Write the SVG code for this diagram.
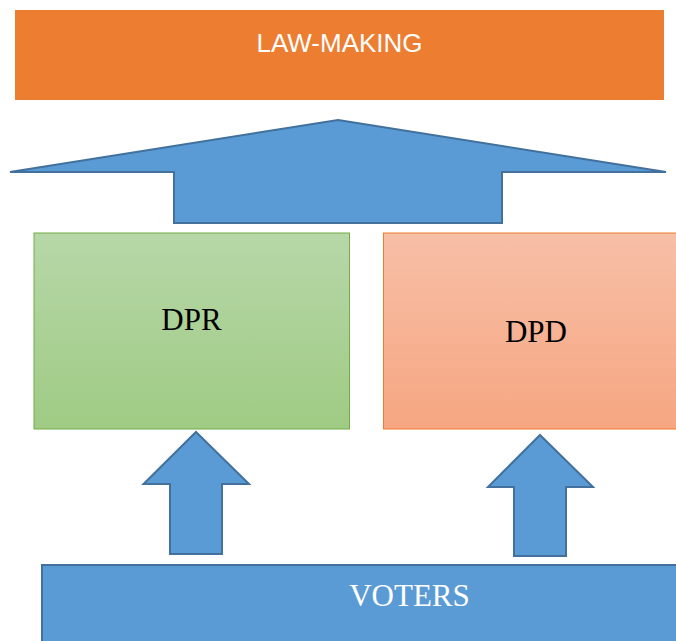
<svg xmlns="http://www.w3.org/2000/svg" width="676" height="641" viewBox="0 0 676 641">
<style>
.arrow{fill:#5b9bd5;stroke:#41719c;stroke-width:2;stroke-linejoin:miter}
.serif{font-family:"Liberation Serif","Times New Roman",serif;font-size:31px;text-anchor:middle}
.sans{font-family:"Liberation Sans",Arial,sans-serif;font-size:26px;text-anchor:middle;fill:#ffffff}
</style>
<defs>
<linearGradient id="gGreen" x1="0" y1="0" x2="0" y2="1">
<stop offset="0" stop-color="#b7d7a8"/>
<stop offset="1" stop-color="#9fcb84"/>
</linearGradient>
<linearGradient id="gOrange" x1="0" y1="0" x2="0" y2="1">
<stop offset="0" stop-color="#f7bfa7"/>
<stop offset="1" stop-color="#f6a681"/>
</linearGradient>
</defs>
<rect width="676" height="641" fill="#ffffff"/>
<g id="lawmaking">
<rect x="15" y="10" width="649" height="90" fill="#ed7d31"/>
<text class="sans" x="339.5" y="52">LAW-MAKING</text>
</g>
<g id="dpr">
<rect x="34" y="233" width="315.5" height="196" fill="url(#gGreen)" stroke="#70ad47" stroke-width="1"/>
<text class="serif" x="191.5" y="329.5" fill="#000000">DPR</text>
</g>
<g id="dpd">
<rect x="383.5" y="233" width="300" height="196" fill="url(#gOrange)" stroke="#ed7d31" stroke-width="1"/>
<text class="serif" x="536" y="342" fill="#000000">DPD</text>
</g>
<g id="voters">
<rect x="42" y="565" width="640" height="90" fill="#5b9bd5" stroke="#41719c" stroke-width="2"/>
<text class="serif" x="409.5" y="605.5" fill="#ffffff">VOTERS</text>
</g>
<g id="connectors">
<polygon class="arrow" points="338,120 666,172 502,172 502,223 174,223 174,172 10,172"/>
<polygon class="arrow" points="196,432 249,484 222,484 222,554 170,554 170,484 143.5,484"/>
<polygon class="arrow" points="540,435 593,487 566,487 566,556 514,556 514,487 488,487"/>
</g>
</svg>
